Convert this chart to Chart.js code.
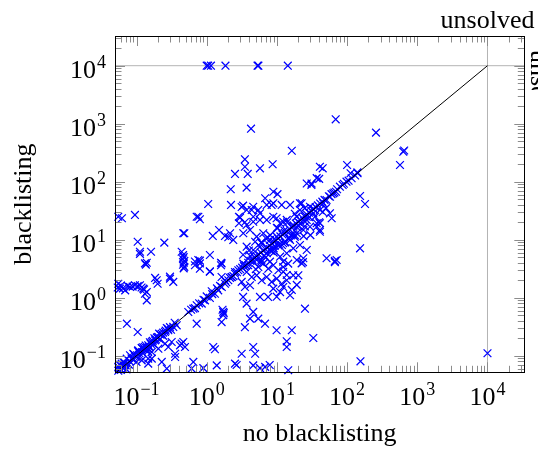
<!DOCTYPE html>
<html>
<head>
<meta charset="utf-8">
<script src="https://cdn.jsdelivr.net/npm/chart.js@4.4.1/dist/chart.umd.min.js"></script>
<style>
  html, body { margin: 0; padding: 0; background: #fff; }
  #wrap { position: relative; width: 538px; height: 452px; }
</style>
</head>
<body>
<div id="wrap"><canvas id="chart"></canvas></div>
<script>
// --- Runtimes (seconds) ---
// x: without blacklisting, y: with blacklisting
const noBlacklisting = [
    // sparse, upper part
    4.28, 16.3, 3.5, 3.5, 5.74, 8.7, 2.53, 3.84, 1.05, 2.2,
    3.7, 2.22, 3.3, 4.6, 6.8, 8.9, 10.2, 8.4, 15.4, 21.3,
    26.6, 31.2, 36.9, 41, 68.8, 258, 632, 650, 567, 44.9,
    100, 112, 141, 40, 153, 180, 86.5, 69.5, 57, 31,
    // middle
    3.15, 4.38, 5.43, 8.9, 11.7, 22.5, 21.3, 29.6, 33, 57,
    60.3, 41, 41, 153, 51, 71, 67, 2.98, 3.5, 5.74,
    4.6, 9.9, 12.3, 19.1, 26.6, 36.9, 41, 3.7, 7.16, 0.464,
    0.76,
    // below the diagonal, right
    23.5, 67, 20.2, 15.4, 11.1, 5.74, 7.5, 25.1, 3.3, 3.7,
    4.6, 4.14, 5.43, 3.5, 6.77, 9.9, 16.3, 33, 13.8, 13.8,
    4.6, 4.9, 3.15, 4.6, 5.74, 6.8, 14.5, 155, 7.9, 2.67,
    // left part
    0.136, 0.68, 0.8, 1.11, 1.6, 1.63, 1.82, 2.53, 2.27, 0.184,
    0.2, 0.3, 0.334, 0.055, 0.058, 0.069, 0.081, 0.095, 0.112, 0.125,
    0.14, 0.132, 0.14, 0.054, 0.06, 0.064, 0.075, 0.088, 0.104, 0.118,
    0.128, 0.073, 0.104, 0.72, 1.18, 1.72, 1.72, 1.68, 1.75, 1.63,
    0.44, 0.49, 0.355, 1.24, 1.31, 0.645, 0.61, 0.895, 1.39, 2.53,
    0.27,
    0.72, 0.8, 0.095, 0.055, 0.062, 0.48, 0.104, 0.249, 0.112, 0.161,
    0.112, 0.14, 0.44, 1.11, 0.8, 0.68, 1.6, 1.22, 1.5, 1.82,
    2.15, 2.39, 2.03, 2.88, 2.88, 0.46, 0.47, 0.46, 0.48, 0.47,
    0.46, 0.48, 0.47, 0.76, 0.8, 1.11, 1.63, 0.194, 0.3, 0.132,
    // along the diagonal, low end
    0.055, 0.0615, 0.0725, 0.0808, 0.09, 0.106, 0.1186, 0.132, 0.147, 0.165,
    0.184, 0.205, 0.229, 0.255, 0.284, 0.334, 0.374, 0.547, 0.645, 0.72,
    0.85, 0.946, 1.11, 1.31, 1.46, 1.64, 1.82, 2.03, 2.27, 2.53,
    2.82,
    0.055, 0.058, 0.06, 0.062, 0.057, 0.065, 0.07, 0.068, 0.075, 0.08,
    0.072, 0.056, 0.085, 0.09, 0.095, 0.1, 0.11, 0.12, 0.105, 0.13,
    0.14, 0.15, 0.16, 0.17, 0.19, 0.2, 0.22, 0.24, 0.26, 0.28,
    0.3,
    0.6, 0.68, 0.78, 0.9, 1.0, 1.2, 1.4, 1.55, 1.9, 2.15,
    2.4, 2.7,
    0.1, 0.1186, 0.147, 0.165, 0.205, 0.255, 0.317, 0.355, 0.417, 0.464,
    0.147, 0.229, 0.284, 0.165,
    0.066, 0.078, 0.092, 0.112, 0.125, 0.138, 0.155, 0.175, 0.195, 0.215,
    0.12, 0.135, 0.155, 0.18, 0.24, 0.27, 0.31, 0.145, 0.21, 0.35,
    // dense cluster below the diagonal
    3.32, 3.91, 4.61, 5.43, 6.4, 7.54, 8.89, 10.5, 12.3, 14.5,
    3.71, 4.38, 5.15, 6.07, 7.16, 8.43, 9.94, 11.7, 13.8, 17.1,
    3.15, 3.51, 4.14, 8.89, 12.3, 9.94, 16.3, 19.2, 22.5, 23.8,
    12.3, 13.8,
    3.71, 4.61, 5.74, 7.16, 8.89, 11.1, 13.8, 17.1, 21.3, 26.6,
    33, 41, 45.6, 51, 63.6, 79, 98, 116,
    3.32, 4.14, 5.15, 6.4, 7.97, 9.94, 12.3, 15.4, 19.2, 23.8,
    29.6, 36.9,
    3.71, 4.61, 5.74, 7.16, 8.89, 11.1, 13.8, 17.1, 21.3, 26.6,
    5.15, 7.97, 12.3, 19.2,
    4.2, 5.0, 6.0, 6.9, 8.0, 9.3, 10.8, 12.8, 15, 18,
    4.9, 5.9, 7.4, 9.0, 10.2, 11.8, 14.5, 16.8, 20, 24,
    6.6, 8.2, 10.6, 13.2, 15.8, 19.5, 24.5, 29,
    // along the diagonal, high end
    3.0, 3.2, 3.4, 3.6, 3.9, 4.2, 4.5, 4.8, 5.1, 5.5,
    5.9, 6.3, 6.8, 7.3, 7.8, 8.4, 9.0, 9.7, 10.4, 11.2,
    12, 12.9, 13.9, 15, 16.1, 17.3, 18.6, 20, 21.5, 23.1,
    24.8, 26.7, 28.7, 30.9, 33.2, 35.7, 38.4, 41.3, 44.4, 47.7,
    55, 60, 66, 72, 90, 105, 130, 140,
    6, 8, 10, 14, 18, 25, 4, 3.3, 7,
    6, 9, 13, 18, 25, 35, 45, 50, 30, 40
];
const blacklisting = [
    820, 342, 243, 181, 170, 200, 136, 136, 41.3, 74,
    79, 39.7, 38.6, 37, 51.8, 67, 61, 39.7, 39.7, 42.4,
    93, 93, 115, 181, 1190, 700, 329, 345, 194, 170,
    194, 140, 140, 112, 56.7, 41.3, 87.7, 67, 55, 88,
    36.6, 32.5, 32.5, 42.4, 39.7, 42.4, 32.5, 37, 34, 28.5,
    23.4, 19.2, 14.7, 7.1, 4.78, 4.47, 4.3, 24, 20, 21.9,
    20.4, 23.4, 20.4, 25, 21.9, 16.7, 13.7, 17.9, 39.7, 12.9,
    24.9,
    4.1, 4.1, 2.43, 1.1, 1.25, 1.03, 1.03, 0.646, 1.03, 0.79,
    0.57, 0.435, 0.435, 0.31, 0.356, 0.274, 0.274, 0.202, 0.177, 0.141,
    0.141, 0.108, 0.108, 0.068, 0.061, 0.064, 0.056, 0.08, 0.069, 0.069,
    3.71, 3.62, 3.16, 2.85, 3.62, 2.27, 2.0, 2.77, 2.27, 2.19,
    1.74, 2.13, 1.87, 1.74, 1.43, 1.34, 1.53, 1.64, 1.64, 1.43,
    1.25, 1.17, 0.9, 1.5, 1.62, 1.45, 1.6, 1.55, 1.58, 1.5,
    1.38, 0.356, 0.256, 0.356, 1.29, 0.57, 0.5, 0.62, 0.54, 0.38,
    0.161, 0.141, 0.095, 0.141, 0.129, 0.078, 0.06, 0.061, 0.068, 0.073,
    0.06,
    24.9, 22.5, 26.7, 24.9, 23.4, 12.9, 9.2, 8.9, 6.2, 6.2,
    5.7, 4.0, 6.2, 5.45, 4.35, 4.2, 4.0, 11.6, 14.7, 11.6,
    12.9, 9.9, 11, 24.9, 19.2, 5.4, 5.0, 4.6, 4.3, 4.0,
    3.7, 3.4, 3.2, 4.47, 3.9, 2.8, 3.9, 2.0, 2.3, 3.9,
    0.064, 0.0728, 0.0888, 0.1016, 0.108, 0.124, 0.136, 0.141, 0.151, 0.172,
    0.184, 0.21, 0.239, 0.256, 0.274, 0.313, 0.334, 0.567, 0.646, 0.74,
    0.79, 0.9, 0.99, 1.17, 1.34, 1.53, 1.74, 2.0, 2.27, 2.59,
    2.97,
    0.055, 0.06, 0.057, 0.065, 0.07, 0.06, 0.068, 0.075, 0.072, 0.08,
    0.058, 0.062, 0.09, 0.085, 0.1, 0.095, 0.11, 0.115, 0.12, 0.13,
    0.135, 0.145, 0.16, 0.18, 0.19, 0.21, 0.23, 0.25, 0.27, 0.29,
    0.31,
    0.62, 0.66, 0.8, 0.92, 1.05, 1.15, 1.45, 1.6, 1.85, 2.2,
    2.35, 2.75,
    0.078, 0.083, 0.089, 0.116, 0.132, 0.161, 0.172, 0.108, 0.151, 0.172,
    0.073, 0.078, 0.141, 0.089,
    0.075, 0.07, 0.105, 0.098, 0.14, 0.122, 0.17, 0.158, 0.205, 0.19,
    0.135, 0.15, 0.14, 0.2, 0.22, 0.3, 0.28, 0.12, 0.24, 0.37,
    3.86, 3.62, 4.13, 3.38, 3.86, 3.16, 3.62, 2.97, 3.38, 3.86,
    2.77, 2.27, 2.43, 2.0, 2.27, 1.87, 2.13, 1.74, 2.0, 2.43,
    1.87, 1.53, 1.64, 1.43, 1.53, 1.04, 1.36, 1.66, 3.9, 4.78,
    2.8, 2.46,
    32.5, 24.9, 28.5, 21.9, 24.9, 19.2, 21.9, 16.7, 19.2, 24.9,
    28.5, 32.5, 42.4, 48.3, 63, 82, 100, 114.6,
    12.9, 14.7, 11.3, 12.9, 9.9, 11.3, 8.67, 9.9, 12.9, 14.7,
    16.7, 19.2,
    7.57, 6.64, 7.57, 5.83, 6.64, 5.09, 5.83, 7.1, 8.1, 6.64,
    4.47, 4.18, 4.18, 4.47,
    5.2, 3.1, 8.8, 4.9, 6.9, 7.8, 8.2, 14.5, 10.4, 11.2,
    9.2, 4.1, 10.8, 7.1, 15.8, 8.1, 10.6, 12.1, 17.5, 11.5,
    5.3, 6.4, 7.9, 9.1, 11.9, 16.2, 21, 24.5,
    3.1, 3.3, 3.5, 3.6, 4.0, 4.3, 4.5, 5.0, 5.2, 5.6,
    6.0, 6.5, 6.9, 7.2, 8.0, 8.6, 9.2, 9.8, 10.5, 11.4,
    12.3, 13.1, 14.1, 15.3, 16.5, 17.6, 19, 20.4, 21.8, 23.6,
    25.2, 27.2, 29.2, 31.5, 33.9, 36.4, 39, 42, 45.2, 48.6,
    56, 61, 65, 74, 92, 104, 128, 145,
    9, 12, 16, 20, 28, 35, 6.5, 5.5, 10.5,
    4.5, 6, 9, 12, 17, 25, 30, 35, 12, 20
];
// runs that hit the timeout
const unsolvedValue = 10000;
const unsolvedWithBlacklisting = [1.0, 1.05, 1.15, 1.85, 5.3, 5.45, 14.3];  // x values, y = unsolved
const unsolvedWithoutBlacklisting = [0.11];                                 // y values, x = unsolved
const diagonalEnds = [0.05, 10000];
const tickExponents = [-1, 0, 1, 2, 3, 4];
const xRange = [0.0494, 33440];
const yRange = [0.0517, 32500];
const xTitle = 'no blacklisting';
const yTitle = 'blacklisting';
const unsolvedLabel = 'unsolved';

const FONT = "'Liberation Serif', 'DejaVu Serif', serif";
const LABEL_SIZE = 26;
const SUP_SIZE = 18;

const points = noBlacklisting.map((v, i) => ({ x: v, y: blacklisting[i] }))
    .concat(unsolvedWithBlacklisting.map(v => ({ x: v, y: unsolvedValue })))
    .concat(unsolvedWithoutBlacklisting.map(v => ({ x: unsolvedValue, y: v })));

// draws "10" with a raised exponent
function drawPower(ctx, exp, x, baseline, align) {
    const base = '10';
    const sup = exp < 0 ? '\u2212' + (-exp) : String(exp);
    ctx.font = LABEL_SIZE + 'px ' + FONT;
    const wb = ctx.measureText(base).width;
    ctx.font = SUP_SIZE + 'px ' + FONT;
    const ws = ctx.measureText(sup).width;
    const total = wb + 1 + ws;
    const left = align === 'right' ? x - total : x - total / 2;
    ctx.font = LABEL_SIZE + 'px ' + FONT;
    ctx.fillText(base, left, baseline);
    ctx.font = SUP_SIZE + 'px ' + FONT;
    ctx.fillText(sup, left + wb + 1, baseline - 10);
}

// --- pgfplots-like frame: inward ticks on all sides, labels, titles ---
const pgfFrame = {
    id: 'pgfFrame',
    beforeDraw(chart) {
        const ctx = chart.ctx;
        ctx.save();
        ctx.fillStyle = '#fff';
        ctx.fillRect(0, 0, chart.width, chart.height);
        ctx.restore();
    },
    afterDatasetsDraw(chart) {
        const { ctx, chartArea: a, scales: { x, y } } = chart;
        const line = (x1, y1, x2, y2) => { ctx.beginPath(); ctx.moveTo(x1, y1); ctx.lineTo(x2, y2); ctx.stroke(); };
        ctx.save();

        ctx.strokeStyle = '#8c8c8c';
        ctx.lineWidth = 1;
        for (let e = -2; e <= 4; e++) {
            for (let k = 1; k <= 9; k++) {
                const v = k * Math.pow(10, e);
                const len = k === 1 ? 10 : 6.5;
                const px = Math.round(x.getPixelForValue(v)) + 0.5;
                if (px > a.left + 1 && px < a.right - 1) {
                    line(px, a.top, px, a.top + len);
                    line(px, a.bottom, px, a.bottom - len);
                }
                const py = Math.round(y.getPixelForValue(v)) + 0.5;
                if (py > a.top + 1 && py < a.bottom - 1) {
                    line(a.left, py, a.left + len, py);
                    line(a.right, py, a.right - len, py);
                }
            }
        }

        // axis box
        ctx.strokeStyle = '#000';
        ctx.strokeRect(Math.round(a.left) + 0.5, Math.round(a.top) + 0.5,
            Math.round(a.right - a.left), Math.round(a.bottom - a.top));

        // tick labels
        ctx.fillStyle = '#000';
        ctx.textBaseline = 'alphabetic';
        ctx.textAlign = 'left';
        x.ticks.forEach(t => drawPower(ctx, Math.round(Math.log10(t.value)), x.getPixelForValue(t.value), 405, 'center'));
        y.ticks.forEach(t => drawPower(ctx, Math.round(Math.log10(t.value)), 106, y.getPixelForValue(t.value) + 12, 'right'));

        // axis titles
        ctx.font = LABEL_SIZE + 'px ' + FONT;
        ctx.textAlign = 'center';
        ctx.fillText(xTitle, (a.left + a.right) / 2, 441);
        ctx.save();
        ctx.translate(31, (a.top + a.bottom) / 2);
        ctx.rotate(-Math.PI / 2);
        ctx.fillText(yTitle, 0, 0);
        ctx.restore();

        // "unsolved" marks for the timeout lines
        ctx.fillText(unsolvedLabel, x.getPixelForValue(unsolvedValue), 28);
        ctx.save();
        ctx.beginPath();
        ctx.rect(a.right, 0, chart.width - a.right, 90);
        ctx.clip();
        ctx.translate(531, 50);
        ctx.rotate(Math.PI / 2);
        ctx.textAlign = 'left';
        ctx.fillText(unsolvedLabel, 0, 0);
        ctx.restore();

        ctx.restore();
    }
};

const decadeTicks = scale => { scale.ticks = tickExponents.map(e => ({ value: Math.pow(10, e) })); };

new Chart(document.getElementById('chart'), {
    type: 'scatter',
    data: {
        datasets: [
            {
                label: 'runs',
                data: points,
                pointStyle: 'crossRot',
                pointRadius: 5.5,
                borderColor: '#0000ff',
                backgroundColor: '#0000ff',
                borderWidth: 1.25,
                clip: 8,
                order: 1
            },
            {
                label: 'equal',
                data: diagonalEnds.map(v => ({ x: v, y: v })),
                showLine: true,
                borderColor: '#000',
                borderWidth: 1,
                pointRadius: 0,
                order: 0
            },
            {
                label: 'unsolved x',
                data: [{ x: unsolvedValue, y: yRange[0] }, { x: unsolvedValue, y: yRange[1] }],
                showLine: true,
                borderColor: '#b4b4b4',
                borderWidth: 1,
                pointRadius: 0,
                order: 2
            },
            {
                label: 'unsolved y',
                data: [{ x: xRange[0], y: unsolvedValue }, { x: xRange[1], y: unsolvedValue }],
                showLine: true,
                borderColor: '#b4b4b4',
                borderWidth: 1,
                pointRadius: 0,
                order: 2
            }
        ]
    },
    options: {
        responsive: true,
        maintainAspectRatio: false,
        animation: false,
        events: [],
        layout: { padding: { left: 115, top: 36, right: 13.7, bottom: 79.7 } },
        plugins: {
            legend: { display: false },
            tooltip: { enabled: false }
        },
        scales: {
            x: {
                type: 'logarithmic',
                min: xRange[0],
                max: xRange[1],
                bounds: 'data',
                display: false,
                afterBuildTicks: decadeTicks
            },
            y: {
                type: 'logarithmic',
                min: yRange[0],
                max: yRange[1],
                bounds: 'data',
                display: false,
                afterBuildTicks: decadeTicks
            }
        }
    },
    plugins: [pgfFrame]
});
</script>
</body>
</html>
